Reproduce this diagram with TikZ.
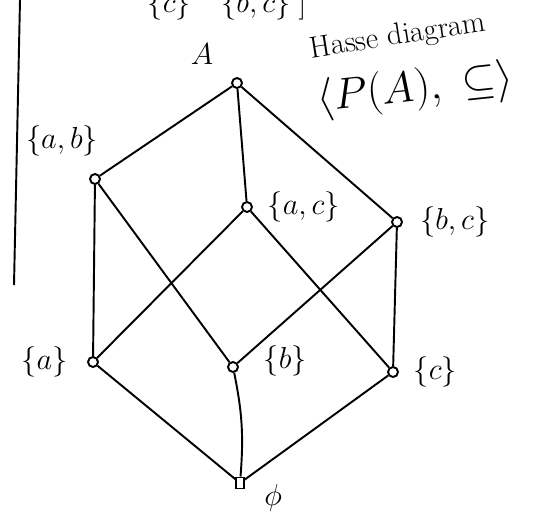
\documentclass[tikz,border=0pt]{standalone}
\usepackage{amsmath}
\usepackage{amssymb}
\usepackage{tikz}
\usetikzlibrary{positioning}

\begin{document}
\begin{tikzpicture}[
    x=0.02cm, y=-0.02cm,
    node distance=0.2cm,
    vertex/.style={circle, draw, line width=1.1pt, inner sep=0pt, minimum size=0.2cm},
    setlabel/.style={font=\LARGE, inner sep=1pt},
    edge/.style={line width=1.1pt}
]
\useasboundingbox (0,0) rectangle (557,528);
\clip (0,0) rectangle (557,528);

% cut-off line at the top and margin bar
\node[setlabel, anchor=base] (prev) at (227,12) {$\{c\}\quad\{b,c\}\;]$};
\coordinate (bartop) at (20,0);
\coordinate (barend) at (14,285);
\draw[edge] (bartop) -- (barend);

% the power set
\node[vertex] (abc) at (237,83) {};
\node[vertex] (ab) at (95,179) {};
\node[vertex] (ac) at (247,207) {};
\node[vertex] (bc) at (397,222) {};
\node[vertex] (a) at (93,362) {};
\node[vertex] (b) at (233,367) {};
\node[vertex] (c) at (393,372) {};
\node[vertex, rectangle, minimum width=0.15cm, minimum height=0.22cm] (empty) at (240,483) {};

\node[setlabel, above left=0.25cm and 0.35cm of abc] (abclabel) {$A$};
\node[setlabel, above=0.3cm of ab, xshift=-0.66cm] (ablabel) {$\{a,b\}$};
\node[setlabel, right=0.25cm of ac] (aclabel) {$\{a,c\}$};
\node[setlabel, right=0.3cm of bc] (bclabel) {$\{b,c\}$};
\node[setlabel, left=0.35cm of a] (alabel) {$\{a\}$};
\node[setlabel, right=0.45cm of b, yshift=0.12cm] (blabel) {$\{b\}$};
\node[setlabel, right=0.25cm of c] (clabel) {$\{c\}$};
\node[setlabel, below right=0.05cm and 0.35cm of empty, yshift=0.2cm] (emptylabel) {$\phi$};

% title
\node[font=\LARGE, rotate=9] (title) at (398,37) {Hasse diagram};
\node[font=\Huge, rotate=6] (poset) at (415,90) {$\langle P(A),\ \subseteq \rangle$};

\draw[edge] (abc) -- (ab);
\draw[edge] (abc) -- (ac);
\draw[edge] (abc) -- (bc);
\draw[edge] (ab) -- (a);
\draw[edge] (ab) -- (b);
\draw[edge] (ac) -- (a);
\draw[edge] (ac) -- (c);
\draw[edge] (bc) -- (b);
\draw[edge] (bc) -- (c);
\draw[edge] (a) -- (empty);
\draw[edge] (b) to[bend left=8] (empty);
\draw[edge] (c) -- (empty);
\end{tikzpicture}
\end{document}
